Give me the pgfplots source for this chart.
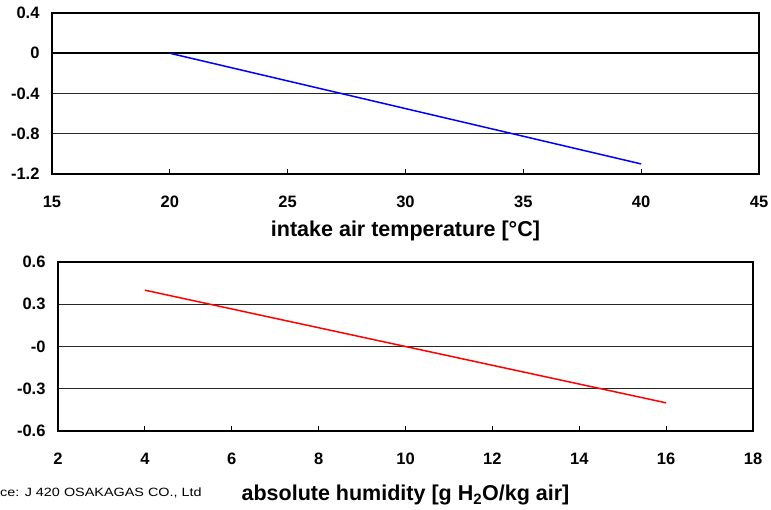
\documentclass[border=0pt]{standalone}
\usepackage{pgfplots}
\pgfplotsset{compat=1.18}
\usepackage{fontspec}
\setmainfont{Liberation Sans}
\begin{document}
\begin{tikzpicture}
\pgfplotsset{
  common/.style={
    scale only axis,
    axis line style={line width=2.4pt},
    ymajorgrids,
    grid style={black!85, line width=0.8pt},
    xtick pos=bottom,
    tick align=inside,
    major tick length=5pt,
    xtick style={black, line width=0.8pt},
    ytick style={draw=none},
    tick label style={font=\fontsize{16.5}{18}\selectfont\bfseries},
    /pgf/number format/assume math mode=true,
    xticklabel style={yshift=-18pt, text height=12pt, text depth=0pt},
    yticklabel style={xshift=-9pt},
    xlabel style={font=\fontsize{21.5}{24}\selectfont\bfseries},
    clip=false,
  }
}
\path[use as bounding box] (0,0) rectangle (771pt,-510pt);
\begin{axis}[common,
  at={(52pt,-13pt)}, anchor=north west,
  width=707pt, height=161pt,
  xmin=15, xmax=45, ymin=-1.2, ymax=0.4,
  xtick={15,20,...,45},
  ytick={-1.2,-0.8,-0.4,0,0.4},
  yticklabels={-1.2,-0.8,-0.4,0,0.4},
  xlabel={intake air temperature [°C]},
  xlabel style={yshift=-7pt},
]
\addplot[black, line width=1.8pt, forget plot] coordinates {(15,0) (45,0)};
\addplot[blue, line width=1.5pt] coordinates {(20,0) (40,-1.1)};
\end{axis}
\begin{axis}[common,
  at={(58pt,-262pt)}, anchor=north west,
  width=695pt, height=169pt,
  xmin=2, xmax=18, ymin=-0.6, ymax=0.6,
  xtick={2,4,...,18},
  ytick={-0.6,-0.3,0,0.3,0.6},
  yticklabels={-0.6,-0.3,-0,0.3,0.6},
  xlabel={absolute humidity [g H\textsubscript{2}O/kg air]},
  xlabel style={yshift=-14pt},
]
\addplot[red, line width=1.5pt] coordinates {(4,0.4) (16,-0.4)};
\end{axis}
\node[anchor=west, font=\fontsize{12}{14}\selectfont, inner sep=0pt, xscale=1.2] at (0pt,-493pt) {ce: J 420 OSAKAGAS CO., Ltd};
\end{tikzpicture}
\end{document}
